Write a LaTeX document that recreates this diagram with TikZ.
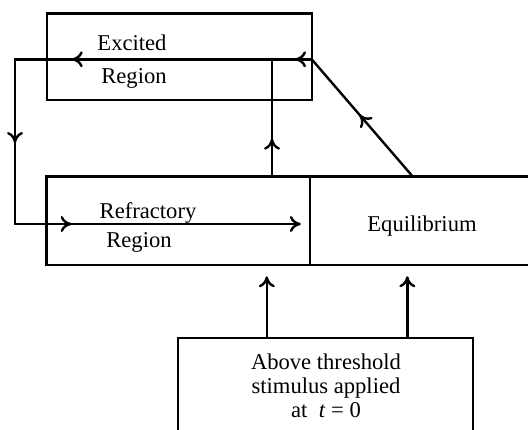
\documentclass[tikz,border=0pt]{standalone}
\usepackage{fontspec}
\setmainfont{Liberation Serif}
\usetikzlibrary{arrows.meta,decorations.markings}

\begin{document}
\begin{tikzpicture}[
	x=0.5pt,y=-0.5pt,
	line width=1.2pt,
	>={To[length=5.5pt,width=8pt]},
	box/.style 2 args={draw,inner sep=0,minimum width=#1,minimum height=#2},
	txt/.style={anchor=base,inner sep=0,font=\fontsize{11.3}{12}\selectfont},
	midarrow/.style={postaction={decorate},
		decoration={markings,mark=at position #1 with {\arrow{>}}}}
]
	\clip (0,0) rectangle (528,429);

	% the boxes
	\node[box={132.5pt}{43.4pt}] (exc) at (179.2,56.7) {};
	\node[box={131.7pt}{44.2pt}] (refr) at (178.35,220.85) {};
	\node[box={112.5pt}{44.2pt}] (equ) at (422.5,220.85) {};
	\node[box={147.5pt}{51pt}] (stim) at (325.5,389) {};

	\node[txt] (excA) at (132,50) {Excited};
	\node[txt] (excB) at (134,83) {Region};
	\node[txt] (refA) at (148,218) {Refractory};
	\node[txt] (refB) at (139,247) {Region};
	\node[txt] (equT) at (422,231.7) {Equilibrium};
	\node[txt,anchor=north,align=center] (stimT) at (326,353)
		{Above threshold\\stimulus applied\\at\enspace\textit{t} = 0};

	% the loop
	\coordinate (cnr) at (311.7,59.3);
	\coordinate (lft) at (15,59.3);
	\coordinate (bot) at (15,224);
	\coordinate (upx) at (272,0);
	\coordinate (foot) at ([xshift=51.5pt]equ.north west);

	\draw[->,shorten >=4pt,postaction={decorate},
		decoration={markings,
			mark=at position 8.35pt with {\arrow{>}},
			mark=at position 120pt with {\arrow{>}},
			mark=at position 190.2pt with {\arrow{>}},
			mark=at position 259pt with {\arrow{>}}}]
		(cnr) -- (lft) -- (bot) -- (bot -| equ.west);
	\draw[midarrow=18.4pt] (refr.north -| upx) -- (cnr -| upx);
	\draw[midarrow=0.52] (foot) -- (cnr);

	% stimulus
	\draw[->,shorten >=5pt] ([xshift=45pt]stim.north west) coordinate (s1)
		-- (s1 |- equ.south);
	\draw[->,shorten >=5pt] ([xshift=115.25pt]stim.north west) coordinate (s2)
		-- (s2 |- equ.south);
\end{tikzpicture}
\end{document}
